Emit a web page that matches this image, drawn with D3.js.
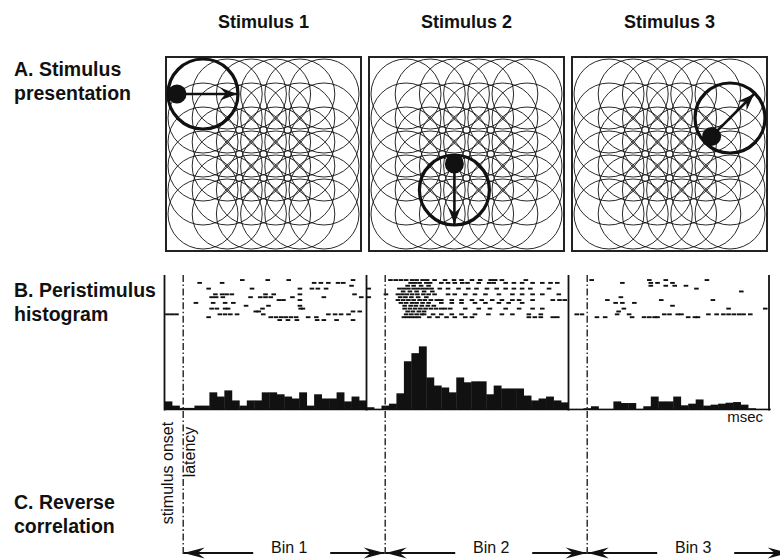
<!DOCTYPE html>
<html>
<head>
<meta charset="utf-8">
<script src="https://cdn.jsdelivr.net/npm/d3@7"></script>
<style>
  body { margin: 0; background: #fff; }
  text { font-family: "Liberation Sans", Arial, Helvetica, sans-serif; fill: #111; }
</style>
</head>
<body>
<script>
// ---- data ----
const stimulusNames = ["Stimulus 1", "Stimulus 2", "Stimulus 3"];
const rowLabels = [["A. Stimulus", "presentation"], ["B. Peristimulus", "histogram"], ["C. Reverse", "correlation"]];
const binLabels = ["Bin 1", "Bin 2", "Bin 3"];

// receptive field grid (6 x 6 positions), and the one being stimulated
const gridPositions = [0, 1, 2, 3, 4, 5];
const activeCol = [0, 2, 5];
const activeRow = [0, 4, 1];
const motionAngle = [0, 90, -45];   // direction of motion, degrees (screen coords)

// PSTH, 10 ms bins
const binStarts = [-25, -15, -5, 5, 15, 25, 35, 45, 55, 65, 75, 85, 95, 105, 115, 125, 135, 145, 155, 165, 175, 185, 195, 205, 215, 225, 235];
const psth1 = [2.5, 1.2, 0.5, 0.5, 1.2, 1.2, 5.3, 4.0, 5.9, 2.8, 1.2, 2.8, 2.8, 5.3, 5.3, 4.7, 4.0, 3.4, 5.3, 1.2, 4.7, 3.4, 3.4, 5.3, 2.5, 4.0, 2.8];
const psth2 = [0.7, 0.2, 1.2, 1.8, 5.0, 14.9, 17.4, 19.5, 9.9, 7.4, 6.8, 5.3, 9.9, 8.4, 8.7, 8.7, 4.7, 7.4, 6.5, 6.5, 6.5, 4.3, 2.8, 3.4, 4.0, 2.8, 2.2];
const psth3 = [0.2, 0.2, 0.4, 1.0, 0.2, 0.2, 2.5, 2.0, 2.0, 0.2, 1.0, 4.0, 2.5, 2.5, 4.0, 1.3, 1.8, 3.1, 1.2, 1.5, 1.8, 2.1, 2.3, 1.5, 0.4, 0.2, 0.2];

// spike rasters: [trial, spike times in ms]
const raster1 = [
  [0, [79, 113, 141, 227]],
  [1, [22, 52, 175, 184, 194, 207, 214]],
  [2, [225]],
  [3, [34, 92, 156, 172, 180, 191]],
  [5, [43, 52, 58, 65, 110, 121, 156, 229]],
  [6, [38, 44, 53, 90, 103, 110, 117, 146, 188, 238]],
  [7, [128, 134, 156]],
  [8, [17, 40, 56, 67]],
  [9, [84, 114, 156]],
  [10, [38, 45, 56, 60, 106, 157, 160]],
  [11, [97, 101, 227, 236]],
  [12, [-21, -15, -9, 49, 56, 63, 72, 107, 194, 203, 211, 221]],
  [13, [34, 117, 124, 131, 137, 144, 151, 167, 178]],
  [14, [129, 140, 152, 179, 188, 205, 227]]
];
const raster2 = [
  [0, [7, 14, 21, 28, 36, 42, 50, 56, 66, 80, 92, 102, 116, 127, 141, 147, 156, 188]],
  [1, [34, 40, 46, 55, 60, 75, 84, 93, 103, 110, 125, 139, 145, 161, 172, 183, 197, 210, 221, 230]],
  [2, [30, 38, 48, 58]],
  [3, [-22, 19, 25, 31, 38, 44, 50, 56, 62, 73, 84, 98, 111, 122, 136, 149, 161, 172, 183, 194, 219]],
  [4, [24, 33, 42, 52, 63]],
  [5, [1, 17, 23, 29, 36, 43, 51, 58, 66, 84, 93, 107, 120, 134, 152, 170, 183, 197, 210, 232]],
  [6, [-22, 20, 27, 35, 44, 55]],
  [7, [17, 24, 31, 38, 46, 53, 61, 69, 75, 89, 102, 116, 129, 143, 156, 170, 179, 197, 224, 233, 240]],
  [8, [21, 28, 36, 42, 50, 58, 75, 89, 102, 120, 134, 152, 165, 183]],
  [9, [26, 34, 41, 49, 57, 65]],
  [10, [26, 33, 40, 47, 54, 61, 68, 75, 80, 87, 107, 125, 140, 161, 179, 197, 210]],
  [11, [30, 37, 45, 52]],
  [12, [28, 35, 42, 49, 52, 64, 75, 89, 102, 120, 138, 156, 170, 192, 208]],
  [13, [25, 30, 35, 40, 45, 59, 70, 82, 93, 107, 116, 192, 200, 208, 224, 230]]
];
const raster3 = [
  [0, [6, 83, 105, 160]],
  [1, [47, 85, 94, 114]],
  [2, [85, 105, 117, 132]],
  [3, [146]],
  [4, [206]],
  [6, [45]],
  [7, [27, 99, 168]],
  [8, [38, 47, 63]],
  [9, [114]],
  [10, [49, 189, 238]],
  [11, [42]],
  [12, [-14, -7, 40, 56, 103, 110, 121, 126, 162, 173, 182, 189, 196, 203, 209, 218]],
  [13, [13, 24, 60, 76, 83, 90, 94, 135, 144, 148]]
];

const psths = [psth1, psth2, psth3];
const rasters = [raster1, raster2, raster3];

// ---- layout ----
const width = 780, height = 560;
const boxTop = 57, boxW = 195, boxH = 194, rfRadius = 35;
const boxLeft = i => 166 + 203 * i;
const panelLeft = i => 164.5 + 202 * i;
const panelW = 202;
const frameTop = 275, baseY = 409.5, arrowY = 553;
const ink = "#111";

const svg = d3.select("body").append("svg")
    .attr("width", width)
    .attr("height", height);

const defs = svg.append("defs");
// barbed arrow heads
defs.append("marker")
    .attr("id", "headBig")
    .attr("viewBox", "-18 -7 19 14")
    .attr("markerUnits", "userSpaceOnUse")
    .attr("markerWidth", 19).attr("markerHeight", 14)
    .attr("refX", 0).attr("refY", 0)
    .attr("orient", "auto")
  .append("path")
    .attr("d", "M0,0 L-17,-6.5 L-11,0 L-17,6.5 Z")
    .attr("fill", ink);
defs.append("marker")
    .attr("id", "headBin")
    .attr("viewBox", "-22 -6 23 12")
    .attr("markerUnits", "userSpaceOnUse")
    .attr("markerWidth", 23).attr("markerHeight", 12)
    .attr("refX", 0).attr("refY", 0)
    .attr("orient", "auto")
  .append("path")
    .attr("d", "M0,0 L-21,-5.5 L-14,0 L-21,5.5 Z")
    .attr("fill", ink);

//column titles
svg.selectAll("text.title")
    .data(stimulusNames)
    .enter()
    .append("text")
    .attr("class", "title")
    .attr("x", (d, i) => boxLeft(i) + boxW / 2)
    .attr("y", 28)
    .attr("text-anchor", "middle")
    .style("font-weight", "bold")
    .style("font-size", "18px")
    .text(d => d);

//row labels
const labelBase = [76, 297, 509];
rowLabels.forEach((lines, r) => {
    lines.forEach((line, k) => {
        svg.append("text")
            .attr("x", 14)
            .attr("y", labelBase[r] + k * 24)
            .style("font-weight", "bold")
            .style("font-size", "19.5px")
            .text(line);
    });
});

// ---- A. stimulus presentation ----
const grid = d3.scaleLinear().domain([0, 5]).range([37, 158]);
const gridY = d3.scaleLinear().domain([0, 5]).range([37, 157]);
const cells = d3.cross(gridPositions, gridPositions);

stimulusNames.forEach((name, i) => {
    const g = svg.append("g").attr("transform", `translate(${boxLeft(i)},${boxTop})`);

    g.append("rect")
        .attr("width", boxW).attr("height", boxH)
        .attr("fill", "none")
        .attr("stroke", "#222")
        .attr("stroke-width", 2);

    g.selectAll("circle.rf")
        .data(cells)
        .enter()
        .append("circle")
        .attr("class", "rf")
        .attr("cx", d => grid(d[0]))
        .attr("cy", d => gridY(d[1]))
        .attr("r", rfRadius)
        .attr("fill", "none")
        .attr("stroke", ink)
        .attr("stroke-width", 0.9);

    const cx = grid(activeCol[i]), cy = gridY(activeRow[i]);
    const a = motionAngle[i] * Math.PI / 180;
    g.append("circle")
        .attr("cx", cx).attr("cy", cy).attr("r", rfRadius)
        .attr("fill", "none")
        .attr("stroke", ink)
        .attr("stroke-width", 3.2);
    const sx = cx - 26 * Math.cos(a), sy = cy - 26 * Math.sin(a);
    g.append("line")
        .attr("x1", sx).attr("y1", sy)
        .attr("x2", cx + 34 * Math.cos(a)).attr("y2", cy + 34 * Math.sin(a))
        .attr("stroke", ink)
        .attr("stroke-width", 2.6)
        .attr("marker-end", "url(#headBig)");
    g.append("circle")
        .attr("cx", sx).attr("cy", sy).attr("r", 9.5)
        .attr("fill", ink);
});

// ---- B. peristimulus histogram ----
const yH = d3.scaleLinear().domain([0, 40]).range([baseY, 280]);
const yTrial = d3.scaleLinear().domain([0, 14]).range([280, 320]);
const xScales = stimulusNames.map((d, i) =>
    d3.scaleLinear().domain([-25, 245]).range([panelLeft(i), panelLeft(i) + panelW]));

stimulusNames.forEach((name, i) => {
    const x = xScales[i];
    const g = svg.append("g");

    g.selectAll("rect.bar")
        .data(psths[i])
        .enter()
        .append("rect")
        .attr("class", "bar")
        .attr("x", (d, k) => x(binStarts[k]))
        .attr("width", (d, k) => x(binStarts[k] + 10) - x(binStarts[k]) + 0.4)
        .attr("y", d => yH(d))
        .attr("height", d => baseY - yH(d))
        .attr("fill", ink);

    g.append("line")
        .attr("x1", x.range()[0]).attr("x2", x.range()[1])
        .attr("y1", baseY).attr("y2", baseY)
        .attr("stroke", ink)
        .attr("stroke-width", 1.5);

    //raster ticks, one dash per spike
    const spikes = rasters[i].flatMap(([trial, times]) => times.map(t => [t, trial]));
    g.selectAll("rect.spike")
        .data(spikes)
        .enter()
        .append("rect")
        .attr("class", "spike")
        .attr("x", d => x(d[0]) - 2.3)
        .attr("y", d => yTrial(d[1]) - 0.9)
        .attr("width", 4.6)
        .attr("height", 1.9)
        .attr("fill", ink);
});

//panel frame verticals
const frameX = [panelLeft(0), panelLeft(1), panelLeft(2), panelLeft(2) + 200.5];
svg.selectAll("line.frame")
    .data(frameX)
    .enter()
    .append("line")
    .attr("class", "frame")
    .attr("x1", d => d).attr("x2", d => d)
    .attr("y1", frameTop).attr("y2", 410.5)
    .attr("stroke", ink)
    .attr("stroke-width", 1.8);

svg.append("text")
    .attr("x", 763)
    .attr("y", 422)
    .attr("text-anchor", "end")
    .style("font-size", "15px")
    .text("msec");

// ---- onset lines and C. reverse correlation bins ----
const onsetX = xScales.map(x => x(0));
svg.selectAll("line.onset")
    .data(onsetX)
    .enter()
    .append("line")
    .attr("class", "onset")
    .attr("x1", d => d).attr("x2", d => d)
    .attr("y1", frameTop).attr("y2", arrowY + 1)
    .attr("stroke", "#222")
    .attr("stroke-width", 1.4)
    .attr("stroke-dasharray", "7,2.5,1.6,2.5");

svg.append("text")
    .attr("transform", `translate(173,473) rotate(-90)`)
    .attr("text-anchor", "middle")
    .style("font-size", "16px")
    .text("stimulus onset");
svg.append("text")
    .attr("transform", `translate(195,452) rotate(-90)`)
    .attr("text-anchor", "middle")
    .style("font-size", "16px")
    .text("latency");

binLabels.forEach((label, i) => {
    const x0 = onsetX[i], x1 = onsetX[i] + 202;
    const mid = (x0 + x1) / 2;
    svg.append("line")
        .attr("x1", mid - 31).attr("x2", x0 + 0.5)
        .attr("y1", arrowY).attr("y2", arrowY)
        .attr("stroke", ink).attr("stroke-width", 2)
        .attr("marker-end", "url(#headBin)");
    svg.append("line")
        .attr("x1", mid + 46).attr("x2", x1 - 0.5)
        .attr("y1", arrowY).attr("y2", arrowY)
        .attr("stroke", ink).attr("stroke-width", 2)
        .attr("marker-end", "url(#headBin)");
    svg.append("text")
        .attr("x", mid + 5)
        .attr("y", arrowY)
        .attr("text-anchor", "middle")
        .style("font-size", "16px")
        .text(label);
});
</script>
</body>
</html>
